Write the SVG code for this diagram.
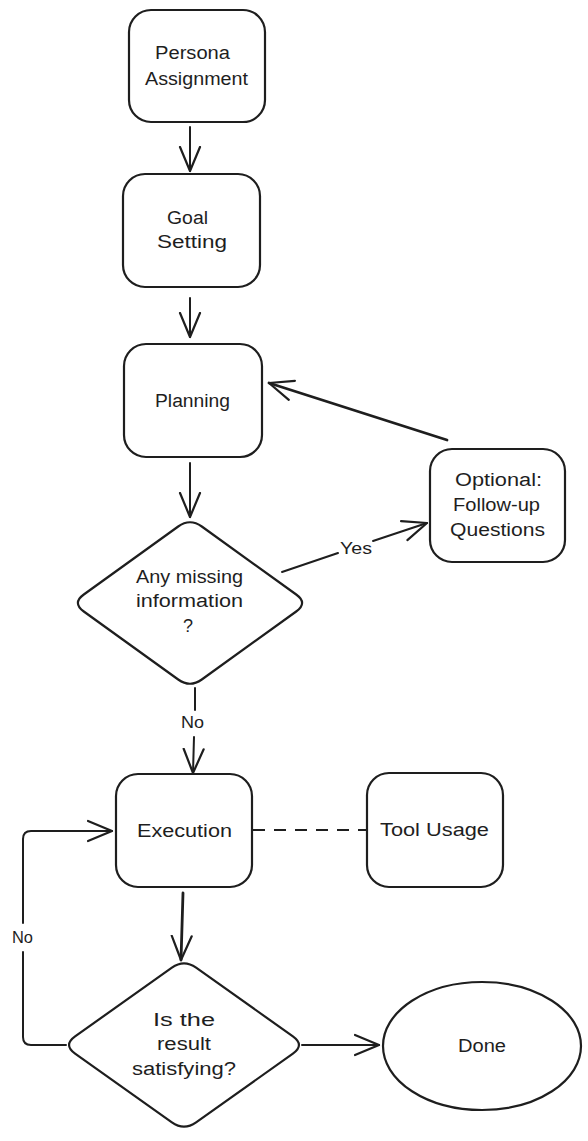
<svg xmlns="http://www.w3.org/2000/svg" width="588" height="1141" viewBox="0 0 588 1141">
  <style>
    .shape { fill: #ffffff; stroke: #1e1e1e; stroke-width: 2.2; stroke-linejoin: round; }
    .edge { fill: none; stroke: #1e1e1e; stroke-width: 2; stroke-linecap: round; stroke-linejoin: round; }
    .bold { stroke-width: 2.8; }
    .dash { stroke-dasharray: 12 9; stroke-linecap: butt; }
    text { font-family: "Liberation Sans", Arial, sans-serif; font-size: 18px; fill: #1e1e1e; text-anchor: middle; }
    .lbl { font-size: 17px; }
  </style>
  <defs>
    <marker id="arrow" markerUnits="userSpaceOnUse" markerWidth="28" markerHeight="24" viewBox="0 0 28 24" refX="25" refY="12" orient="auto">
      <path d="M1,2 L25,12 L1,22" fill="none" stroke="#1e1e1e" stroke-width="2.2" stroke-linecap="round" stroke-linejoin="round"/>
    </marker>
  </defs>

  <g id="connectors">
    <path class="edge" d="M190,127 L190,171" marker-end="url(#arrow)"/>
    <path class="edge" d="M190,298 L190,337" marker-end="url(#arrow)"/>
    <path class="edge" d="M190,463 L190,517" marker-end="url(#arrow)"/>
    <path class="edge" d="M282,572 L338,553"/>
    <path class="edge" d="M373,541 L427,523" marker-end="url(#arrow)"/>
    <text class="lbl" x="356" y="554" textLength="32" lengthAdjust="spacingAndGlyphs">Yes</text>
    <path class="edge bold" d="M447,440 L269,383" marker-end="url(#arrow)"/>
    <path class="edge" d="M195,688 L195,710"/>
    <path class="edge" d="M194,737 L193,773" marker-end="url(#arrow)"/>
    <text class="lbl" x="192.5" y="728" textLength="23" lengthAdjust="spacingAndGlyphs">No</text>
    <path class="edge dash" d="M253,830 L370,830"/>
    <path class="edge bold" d="M183,893 L181,960" marker-end="url(#arrow)"/>
    <path class="edge" d="M302,1045 L379,1045" marker-end="url(#arrow)"/>
    <path class="edge" d="M66,1045 L31,1045 Q23,1045 23,1037 L23,952"/>
    <path class="edge" d="M23,923 L23,839 Q23,831 31,831 L112,831" marker-end="url(#arrow)"/>
    <text class="lbl" x="22.5" y="943" textLength="21" lengthAdjust="spacingAndGlyphs">No</text>
  </g>

  <g id="persona">
    <rect class="shape" x="129" y="10" width="136" height="112" rx="22" ry="22"/>
    <text x="192.5" y="59" textLength="75" lengthAdjust="spacingAndGlyphs">Persona</text>
    <text x="196.5" y="85" textLength="103" lengthAdjust="spacingAndGlyphs">Assignment</text>
  </g>

  <g id="goal">
    <rect class="shape" x="123" y="174" width="137" height="113" rx="22" ry="22"/>
    <text x="187.5" y="224" textLength="41" lengthAdjust="spacingAndGlyphs">Goal</text>
    <text x="192" y="248" textLength="70" lengthAdjust="spacingAndGlyphs">Setting</text>
  </g>

  <g id="planning">
    <rect class="shape" x="124" y="344" width="138" height="113" rx="22" ry="22"/>
    <text x="192.5" y="407" textLength="75" lengthAdjust="spacingAndGlyphs">Planning</text>
  </g>

  <g id="missing">
    <path class="shape" d="M201.8,526.5 L296.2,594.5 Q308,603 296.2,611.5 L201.8,679.5 Q190,688 178.2,679.5 L83.8,611.5 Q72,603 83.8,594.5 L178.2,526.5 Q190,518 201.8,526.5 Z"/>
    <text x="189.5" y="583" textLength="107" lengthAdjust="spacingAndGlyphs">Any missing</text>
    <text x="189.5" y="607" textLength="107" lengthAdjust="spacingAndGlyphs">information</text>
    <text x="188" y="632">?</text>
  </g>

  <g id="followup">
    <rect class="shape" x="430" y="449" width="135" height="113" rx="22" ry="22"/>
    <text x="498.5" y="486" textLength="87" lengthAdjust="spacingAndGlyphs">Optional:</text>
    <text x="496.5" y="511" textLength="87" lengthAdjust="spacingAndGlyphs">Follow-up</text>
    <text x="497.5" y="536" textLength="95" lengthAdjust="spacingAndGlyphs">Questions</text>
  </g>

  <g id="execution">
    <rect class="shape" x="116" y="774" width="136" height="113" rx="22" ry="22"/>
    <text x="184.5" y="837" textLength="95" lengthAdjust="spacingAndGlyphs">Execution</text>
  </g>

  <g id="tool">
    <rect class="shape" x="367" y="773" width="136" height="114" rx="22" ry="22"/>
    <text x="434.5" y="836" textLength="109" lengthAdjust="spacingAndGlyphs">Tool Usage</text>
  </g>

  <g id="satisfying">
    <path class="shape" d="M196.1,967.6 L292.9,1036.4 Q305,1045 292.9,1053.6 L196.1,1122.4 Q184,1131 171.9,1122.4 L75.1,1053.6 Q63,1045 75.1,1036.4 L171.9,967.6 Q184,959 196.1,967.6 Z"/>
    <text x="184" y="1026" textLength="62" lengthAdjust="spacingAndGlyphs">Is the</text>
    <text x="184" y="1050" textLength="54" lengthAdjust="spacingAndGlyphs">result</text>
    <text x="184" y="1075" textLength="104" lengthAdjust="spacingAndGlyphs">satisfying?</text>
  </g>

  <g id="done">
    <ellipse class="shape" cx="482" cy="1046" rx="99" ry="64"/>
    <text x="482" y="1052" textLength="48" lengthAdjust="spacingAndGlyphs">Done</text>
  </g>
</svg>
